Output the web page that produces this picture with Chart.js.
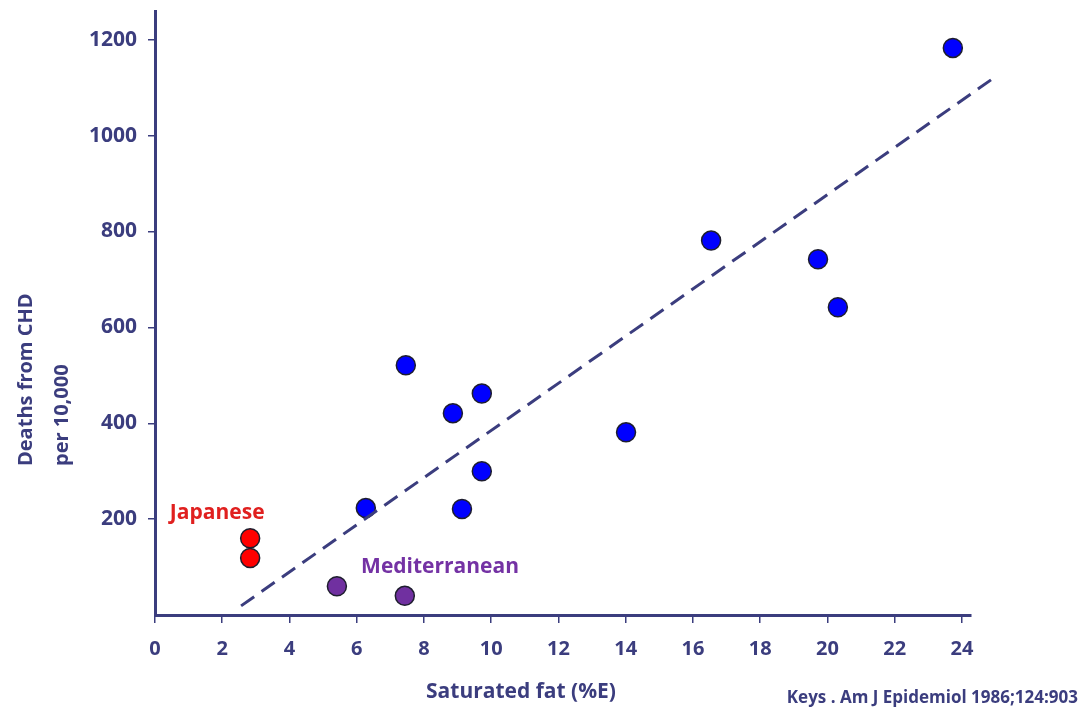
<!DOCTYPE html>
<html>
<head>
<meta charset="utf-8">
<title>Saturated fat vs CHD deaths</title>
<script src="https://cdn.jsdelivr.net/npm/chart.js@4.4.1/dist/chart.umd.min.js"></script>
<style>
  html, body { margin: 0; padding: 0; background: #fff; }
  #wrap { width: 1085px; height: 708px; }
</style>
</head>
<body>
<div id="wrap"><canvas id="keys" width="1085" height="708"></canvas></div>
<script>
// values
var blueFat = [23.73, 16.54, 19.72, 20.31, 7.46, 9.72, 8.86, 14.01, 9.72, 6.27, 9.13];
var blueDeaths = [1183, 781, 742, 642, 521, 462, 421, 381, 300, 223, 221];
var japanFat = [2.83, 2.83];
var japanDeaths = [160, 119];
var medFat = [5.41, 7.43];
var medDeaths = [60, 40];
var trendFat = [2.56, 24.92];
var trendDeaths = [19, 1119];
var xTicks = [0, 2, 4, 6, 8, 10, 12, 14, 16, 18, 20, 22, 24];
var yTicks = [200, 400, 600, 800, 1000, 1200];

var navy = '#3b3d7e';
var font = '"Open Sans", "DejaVu Sans", sans-serif';

function toPoints(xs, ys) {
    let arr = [];
    for (let i = 0; i < xs.length; i++) {
        arr.push({x: xs[i], y: ys[i]});
    }
    return arr;
}

// text drawn on the canvas: axis titles, group labels, citation
var textPlugin = {
    id: 'keysText',
    afterDraw(chart) {
        const ctx = chart.ctx;
        const xs = chart.scales.x;
        const ys = chart.scales.y;
        ctx.save();
        ctx.textBaseline = 'middle';

        ctx.font = 'bold 21px ' + font;
        ctx.fillStyle = '#e0201f';
        ctx.textAlign = 'center';
        ctx.fillText('Japanese', xs.getPixelForValue(1.85), ys.getPixelForValue(212));

        ctx.fillStyle = '#7432a4';
        ctx.textAlign = 'left';
        ctx.fillText('Mediterranean', xs.getPixelForValue(6.13), ys.getPixelForValue(100));

        ctx.fillStyle = navy;
        ctx.font = 'bold 21px ' + font;
        ctx.textAlign = 'center';
        ctx.fillText('Saturated fat (%E)', 521, 692);

        ctx.font = 'bold 17px ' + font;
        ctx.textAlign = 'right';
        ctx.fillText('Keys . Am J Epidemiol 1986;124:903', 1078, 698);

        ctx.font = 'bold 20px ' + font;
        ctx.textAlign = 'left';
        ctx.translate(0, 466);
        ctx.rotate(-Math.PI / 2);
        ctx.fillText('Deaths from CHD', 0, 26);
        ctx.fillText('per 10,000', 0, 62);
        ctx.restore();
    }
};

var whiteBg = {
    id: 'whiteBg',
    beforeDraw(chart) {
        const ctx = chart.ctx;
        ctx.save();
        ctx.fillStyle = '#fff';
        ctx.fillRect(0, 0, chart.width, chart.height);
        ctx.restore();
    }
};

function dots(label, xs, ys, colour) {
    return {
        label: label,
        data: toPoints(xs, ys),
        backgroundColor: colour,
        borderColor: '#1e1e2e',
        borderWidth: 1.5,
        pointRadius: 9.5,
        pointHoverRadius: 9.5,
        showLine: false,
        clip: false
    };
}

var chart = new Chart(document.getElementById('keys'), {
    type: 'scatter',
    data: {
        datasets: [
            {
                label: 'trend',
                data: toPoints(trendFat, trendDeaths),
                showLine: true,
                borderColor: navy,
                borderWidth: 3,
                borderDash: [16, 9],
                pointRadius: 0,
                fill: false,
                clip: false
            },
            dots('Japanese', japanFat, japanDeaths, '#ff0000'),
            dots('Mediterranean', medFat, medDeaths, '#7030a0'),
            dots('Other', blueFat, blueDeaths, '#0000ff')
        ]
    },
    plugins: [whiteBg, textPlugin],
    options: {
        responsive: false,
        animation: false,
        events: [],
        layout: { padding: { top: 10, right: 114, left: 0, bottom: 0 } },
        plugins: {
            legend: { display: false },
            tooltip: { enabled: false }
        },
        scales: {
            x: {
                type: 'linear',
                min: 0,
                max: 24.27,
                afterBuildTicks: (scale) => { scale.ticks = xTicks.map(v => ({value: v})); },
                afterFit: (scale) => {
                    scale.height = 93;
                    scale.paddingLeft = 0;
                    scale.paddingRight = 0;
                },
                border: { color: navy, width: 3 },
                grid: { drawOnChartArea: false, tickLength: 8, color: navy, lineWidth: 1.5 },
                ticks: {
                    color: navy,
                    padding: 14,
                    maxRotation: 0,
                    autoSkip: false,
                    callback: (v) => String(v),
                    font: { family: font, size: 20, weight: 'bold' }
                }
            },
            y: {
                type: 'linear',
                min: 0,
                max: 1260,
                afterBuildTicks: (scale) => { scale.ticks = yTicks.map(v => ({value: v})); },
                afterFit: (scale) => {
                    scale.width = 155;
                    scale.paddingTop = 0;
                    scale.paddingBottom = 0;
                },
                border: { color: navy, width: 3 },
                grid: { drawOnChartArea: false, tickLength: 7, color: navy, lineWidth: 1.5 },
                ticks: {
                    color: navy,
                    padding: 11,
                    autoSkip: false,
                    callback: (v) => String(v),
                    font: { family: font, size: 21, weight: 'bold' }
                }
            }
        }
    }
});
</script>
</body>
</html>
